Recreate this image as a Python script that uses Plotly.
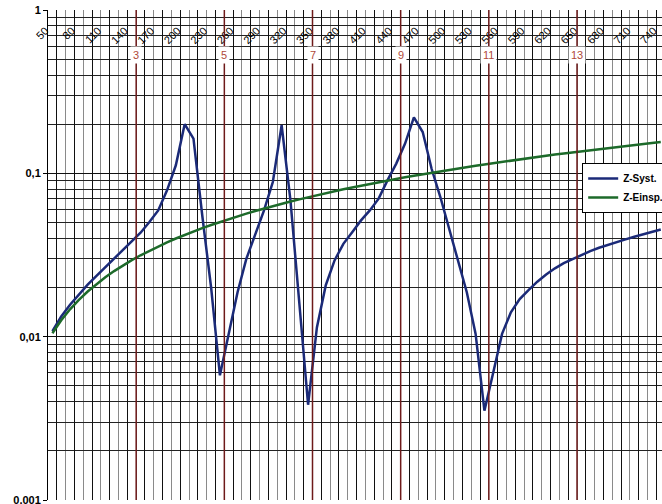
import plotly.graph_objects as go

# frequency categories (Hz)
freq = list(range(50, 750, 10))

z_syst = [0.0108, 0.0133, 0.0157, 0.0181, 0.0208, 0.0236, 0.0266, 0.0301, 0.0337, 0.0383,
          0.0433, 0.0503, 0.0593, 0.0787, 0.112, 0.200, 0.163, 0.055, 0.020, 0.0058,
          0.0104, 0.0187, 0.030, 0.0417, 0.0593, 0.0885, 0.197, 0.0683, 0.0166, 0.00383,
          0.0114, 0.0206, 0.0293, 0.0370, 0.0436, 0.0515, 0.0593, 0.070, 0.0906, 0.1147,
          0.152, 0.220, 0.179, 0.107, 0.0716, 0.0458, 0.0293, 0.0187, 0.0104, 0.00352,
          0.00604, 0.0104, 0.0141, 0.0170, 0.0193, 0.0217, 0.0240, 0.0262, 0.0282, 0.0299,
          0.0318, 0.0334, 0.0350, 0.0365, 0.0379, 0.0394, 0.0409, 0.0424, 0.0439, 0.0453]

z_einsp = [0.0105, 0.0126, 0.0147, 0.0168, 0.0189, 0.0210, 0.0231, 0.0252, 0.0273, 0.0294,
           0.0315, 0.0336, 0.0357, 0.0378, 0.0399, 0.0420, 0.0441, 0.0462, 0.0483, 0.0504,
           0.0525, 0.0546, 0.0567, 0.0588, 0.0609, 0.0630, 0.0651, 0.0672, 0.0693, 0.0714,
           0.0735, 0.0756, 0.0777, 0.0798, 0.0819, 0.0840, 0.0861, 0.0882, 0.0903, 0.0924,
           0.0945, 0.0966, 0.0987, 0.1008, 0.1029, 0.1050, 0.1071, 0.1092, 0.1113, 0.1134,
           0.1155, 0.1176, 0.1197, 0.1218, 0.1239, 0.1260, 0.1281, 0.1302, 0.1323, 0.1344,
           0.1365, 0.1386, 0.1407, 0.1428, 0.1449, 0.1470, 0.1491, 0.1512, 0.1533, 0.1554]

x_tickvals = list(range(50, 750, 30))
x_ticktext = [str(v) for v in x_tickvals]

y_tickvals = [0.001, 0.01, 0.1, 1]
y_ticktext = ["0,001", "0,01", "0,1", "1"]

harmonic_orders = [3, 5, 7, 9, 11, 13, 15]
harmonic_x = [145, 245, 345, 445, 545, 645, 745]

X_RANGE = [45, 741.4]

fig = go.Figure()
fig.add_trace(go.Scatter(x=freq, y=z_syst, mode="lines", name="Z-Syst.",
                         line=dict(color="#1b2a78", width=2.5)))
fig.add_trace(go.Scatter(x=freq, y=z_einsp, mode="lines", name="Z-Einsp.",
                         line=dict(color="#1d6a2a", width=2.5)))
# invisible traces carrying the black vertical grid axis and the label axis
fig.add_trace(go.Scatter(x=[X_RANGE[0]], y=[0.01], xaxis="x2", mode="markers",
                         marker=dict(opacity=0), showlegend=False, hoverinfo="skip"))
fig.add_trace(go.Scatter(x=[X_RANGE[0]], y=[0.01], xaxis="x3", mode="markers",
                         marker=dict(opacity=0), showlegend=False, hoverinfo="skip"))

for h, hx in zip(harmonic_orders, harmonic_x):
    fig.add_shape(type="line", x0=hx, x1=hx, y0=0, y1=1, xref="x", yref="paper",
                  line=dict(color="#6e1a1a", width=1.5), layer="above")
    fig.add_annotation(x=hx, y=-0.276, xref="x", yref="y", text=str(h), showarrow=False,
                       font=dict(family="Liberation Sans, Arial", size=11, color="#b04a3a"),
                       bgcolor="white", borderpad=2)

fig.update_layout(
    width=662, height=504,
    margin=dict(l=48, r=0, t=10, b=4, autoexpand=False),
    paper_bgcolor="white", plot_bgcolor="white",
    font=dict(family="Liberation Sans, Arial", color="black"),
    showlegend=True,
    legend=dict(x=0.870, y=0.688, xanchor="left", yanchor="top",
                bgcolor="white", bordercolor="black", borderwidth=1,
                font=dict(size=10, weight="bold"), tracegroupgap=2),
    xaxis=dict(range=X_RANGE, side="top", automargin=False,
               showticklabels=False, ticks="",
               showgrid=False, zeroline=False, showline=False,
               minor=dict(tick0=45, dtick=10, showgrid=True, gridcolor="#8a8a8a",
                          gridwidth=1, ticks="")),
    xaxis2=dict(range=X_RANGE, overlaying="x", side="bottom", tick0=55, dtick=20,
                automargin=False, showgrid=True, gridcolor="#111111", gridwidth=1,
                showticklabels=False, ticks="", zeroline=False, showline=False),
    xaxis3=dict(range=X_RANGE, overlaying="x", side="bottom", anchor="free",
                position=0.977, automargin=False, ticklabeloverflow="allow",
                ticklabelshift=-7,
                tickmode="array", tickvals=x_tickvals, ticktext=x_ticktext,
                tickangle=-45, tickfont=dict(size=11, color="black"), ticks="",
                showgrid=False, zeroline=False, showline=False, layer="above traces"),
    yaxis=dict(type="log", range=[-3, 0], automargin=False, ticklabeloverflow="allow",
               tickmode="array", tickvals=y_tickvals,
               ticktext=y_ticktext, tickfont=dict(size=11, weight="bold"),
               ticks="outside", ticklen=4, tickcolor="black",
               showgrid=True, gridcolor="#111111", gridwidth=1,
               showline=True, linecolor="black", linewidth=1, zeroline=False,
               minor=dict(dtick="D1", showgrid=True, gridcolor="#222222", gridwidth=1,
                          ticks="")),
)

fig.write_html("out.html", config={"displayModeBar": False},
               post_script="document.body.style.margin='0';")
